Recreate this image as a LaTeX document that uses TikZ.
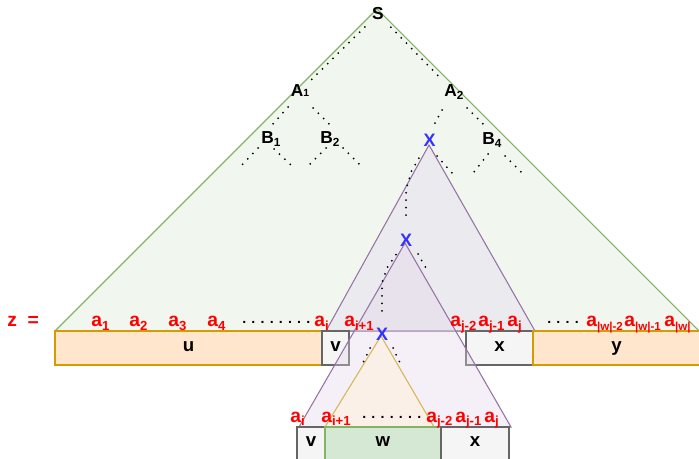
\documentclass[tikz,border=0pt]{standalone}
\usepackage{fontspec}
\setmainfont{Liberation Sans}
\usetikzlibrary{positioning}

\definecolor{greentri}{HTML}{F1F7EF}
\definecolor{greenline}{HTML}{82B366}
\definecolor{greenfill}{HTML}{D5E8D4}
\definecolor{purpletri}{HTML}{EBEAEE}
\definecolor{purplefill}{HTML}{E1D5E7}
\definecolor{purpleline}{HTML}{9673A6}
\definecolor{orangetri}{HTML}{FAF0E8}
\definecolor{orangefill}{HTML}{FFE6CC}
\definecolor{orangeline}{HTML}{D79B00}
\definecolor{yellowline}{HTML}{D6B656}
\definecolor{grayfill}{HTML}{F5F5F5}
\definecolor{grayline}{HTML}{666666}
\definecolor{xblue}{HTML}{3333FF}
\definecolor{symred}{HTML}{FF0000}

\newcommand{\lsub}[1]{\raisebox{-0.2em}{\scalebox{0.68}{#1}}}
\newcommand{\wsub}[1]{\raisebox{-0.2em}{\scalebox{0.6}{#1}}}

\tikzset{
  tri/.style={line width=0.8pt},
  strbox/.style={draw, line width=0.9pt, inner sep=0pt, outer sep=0pt,
    minimum height=25.5pt, text height=0.52em, text depth=0pt,
    font=\fontsize{14}{14}\selectfont\bfseries},
  ubox/.style={strbox, fill=orangefill, draw=orangeline},
  gbox/.style={strbox, fill=grayfill, draw=grayline},
  wbox/.style={strbox, fill=greenfill, draw=greenline},
  treelabel/.style={inner sep=0pt, font=\fontsize{13}{13}\selectfont\bfseries},
  xmark/.style={treelabel, text=xblue, font=\fontsize{13.5}{13.5}\selectfont\bfseries},
  sym/.style={inner sep=0pt, anchor=base west, text=symred,
    font=\fontsize{14.5}{14.5}\selectfont\bfseries},
  ellip/.style={inner sep=0pt, anchor=base west,
    font=\fontsize{10.6}{10.6}\selectfont\bfseries},
  treedots/.style={line width=1.5pt, line cap=round, dash pattern=on 0pt off 5.6pt},
}

\begin{document}
\begin{tikzpicture}[x=0.75pt, y=-0.75pt]
    \useasboundingbox (0,0) rectangle (699,459);

    % Derivation tree of S and the first subtree of X
    \draw[tri, draw=greenline, fill=greentri] (55,331) -- (377,9) -- (699,331) -- cycle;
    \draw[tri, draw=purpleline, fill=purpletri] (326,331) -- (429,145) -- (535,331) -- cycle;

    % z = uvwxy
    \node[ubox, minimum width=200.25pt] (u) at (188.5,348) {u};
    \node[gbox, minimum width=20.25pt, right=0pt of u] (v) {v};
    \node[gbox, minimum width=50.25pt] (x) at (499.5,348) {x};
    \node[ubox, minimum width=125.25pt, right=0pt of x] (y) {y};

    % Inner subtrees of X
    \draw[tri, draw=purpleline, fill=purplefill, fill opacity=0.35] (299,427) -- (405,243) -- (511,427) -- cycle;
    \draw[tri, draw=yellowline, fill=orangetri] (325,427) -- (381,336) -- (434,427) -- cycle;

    % vwx
    \node[gbox, minimum width=21pt, minimum height=24.75pt] (vb) at (311,443.5) {v};
    \node[wbox, minimum width=87pt, minimum height=24.75pt, right=0pt of vb] (w) {w};
    \node[gbox, minimum width=51pt, minimum height=24.75pt, right=0pt of w] (xb) {x};

    % Tree labels
    \node[treelabel] (S) at (378,14) {S};
    \node[treelabel] (A1) at (300,91) {A\scalebox{0.6}{1}};
    \node[treelabel] (A2) at (454,92) {A\lsub{2}};
    \node[treelabel] (B1) at (271,139) {B\lsub{1}};
    \node[treelabel] (B2) at (330,139) {B\lsub{2}};
    \node[treelabel] (B4) at (492,140) {B\lsub{4}};
    \node[xmark] (X1) at (429.5,140) {X};
    \node[xmark] (X2) at (406,240) {X};
    \node[xmark] (X3) at (382,334.5) {X};

    % Dotted branches
    \draw[treedots, shorten <=13.8pt, shorten >=11.7pt] (S.center) -- (A1.center);
    \draw[treedots, shorten <=13.8pt, shorten >=13.8pt] (S.center) -- (A2.center);
    \draw[treedots] (A1.center) ++(-12,16) -- ++(-15,17);
    \draw[treedots] (A1.center) ++(13,17) -- ++(16,16);
    \draw[treedots] (B1.center) ++(-13,9) -- ++(-16,17);
    \draw[treedots] (B1.center) ++(3,10) -- ++(17,16);
    \draw[treedots] (B2.center) ++(-4,9) -- ++(-17,17);
    \draw[treedots] (B2.center) ++(13,9) -- ++(16,16);
    \draw[treedots] (A2.center) ++(-12,18) -- ++(-8,15);
    \draw[treedots] (A2.center) ++(13,16) -- ++(16,16);
    \draw[treedots] (B4.center) ++(-4,14) -- ++(-14,18);
    \draw[treedots] (B4.center) ++(13,16) -- ++(16,16);
    \draw[treedots, shorten <=15.8pt, shorten >=15pt] (X1.center) -- (411,172) -- (406,190) -- (X2.center);
    \draw[treedots] (X1.center) ++(7.5,16) -- ++(15,17);
    \draw[treedots, shorten <=13.3pt, shorten >=14.6pt] (X2.center) -- (387,268) -- (382,283) -- (X3.center);
    \draw[treedots] (X2.center) ++(12,14) -- ++(8,14);
    \draw[treedots] (X3.center) ++(-12,13.5) -- ++(-7,15);
    \draw[treedots] (X3.center) ++(11,13.5) -- ++(7,15);

    % Symbols of z
    \node[sym] (z) at (7,326) {z\hspace{8pt}=};
    \node[sym] (a1) at (91,327) {a\lsub{1}};
    \node[sym] (a2) at (129,327) {a\lsub{2}};
    \node[sym] (a3) at (168,327) {a\lsub{3}};
    \node[sym] (a4) at (207,327) {a\lsub{4}};
    \node[ellip] (gap1) at (242,323.5) {. . . . . . . .};
    \node[sym] (ai) at (314,327) {a\lsub{i}};
    \node[sym] (ai1) at (344,327) {a\lsub{i+1}};
    \node[sym] (aj2) at (450,327) {a\lsub{j-2}};
    \node[sym] (aj1) at (478,327) {a\lsub{j-1}};
    \node[sym] (aj) at (507,327) {a\lsub{j}};
    \node[ellip] (gap2) at (547,324) {. . . .};
    \node[sym] (aw2) at (586,327) {a\wsub{|w|-2}};
    \node[sym] (aw1) at (624,327) {a\wsub{|w|-1}};
    \node[sym] (aw) at (664,327) {a\wsub{|w|}};

    % Symbols of vwx
    \node[sym] (bai) at (290,422) {a\lsub{i}};
    \node[sym] (bai1) at (321,422) {a\lsub{i+1}};
    \node[ellip] (gap3) at (362,418.5) {. . . . . . .};
    \node[sym] (baj2) at (426,422) {a\lsub{j-2}};
    \node[sym] (baj1) at (455,422) {a\lsub{j-1}};
    \node[sym] (baj) at (484,422) {a\lsub{j}};
\end{tikzpicture}
\end{document}
